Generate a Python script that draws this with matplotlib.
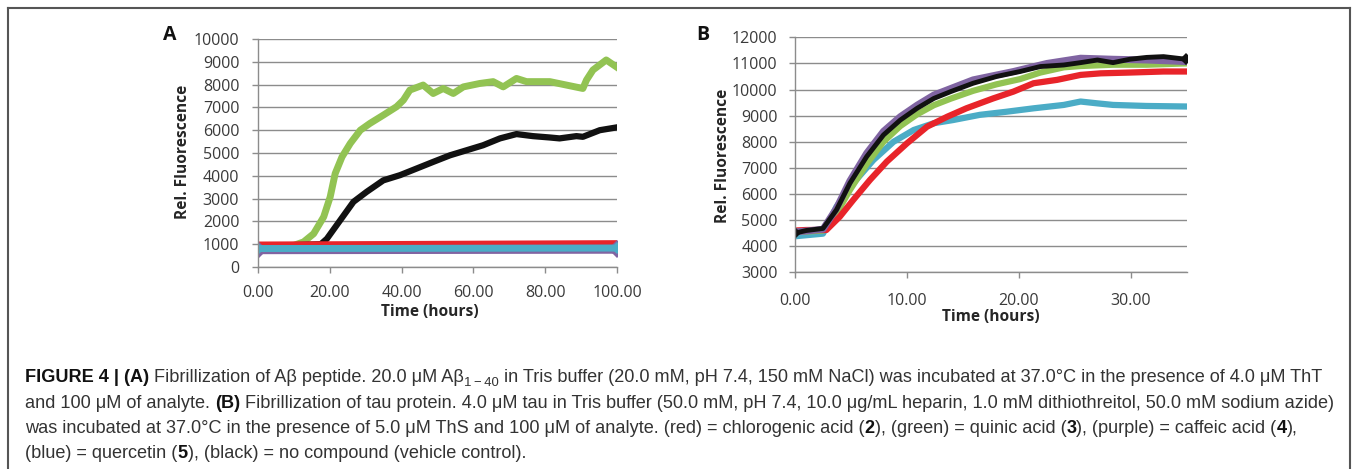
import numpy as np
import matplotlib
matplotlib.use("Agg")
import matplotlib.pyplot as plt
from matplotlib.lines import Line2D

# ---- data ----
# Panel A (Abeta), time in hours
a_green_t = [0, 5, 10, 12.7, 15.5, 18.3, 20.1, 21.5, 23.4, 25.7, 28.5, 31.2, 34.9, 38.6, 40.5, 42.3,
             46, 48.8, 51.6, 54.4, 57.2, 61.8, 65.5, 68.3, 72, 74.8, 81.3, 85.9, 90.5, 91.5, 93.3, 97, 99.8]
a_green_v = [900, 920, 950, 1100, 1460, 2200, 3070, 4100, 4830, 5420, 6000, 6300, 6660, 7030, 7320, 7760,
             7980, 7610, 7830, 7610, 7900, 8050, 8130, 7900, 8270, 8130, 8130, 7980, 7830, 8200, 8640, 9080, 8780]
a_black_t = [0, 10, 17.5, 19.2, 22.9, 26.6, 30.3, 34.9, 39.6, 44.2, 48.8, 53.5, 58.1, 62.7, 67.4, 72,
             76.6, 81.3, 84, 88.7, 90.5, 95.2, 99.8]
a_black_v = [950, 960, 1000, 1240, 2050, 2860, 3300, 3800, 4030, 4320, 4610, 4900, 5120, 5340, 5640, 5830,
             5740, 5680, 5640, 5740, 5710, 6000, 6120]
a_flat_t = [0, 50, 100]
a_red_v = [950, 980, 1010]
a_purple_v = [760, 770, 780]
a_blue_v = [810, 820, 830]

# Panel B (tau)
b_black_t = [0, 1, 2.5, 3.7, 4.9, 6.4, 7.9, 9.4, 10.9, 12.4, 13.9, 15.9, 18, 20.1, 21.9, 24, 25.5, 27,
             28.4, 29.9, 31.4, 32.9, 34.9]
b_black_v = [4500, 4600, 4680, 5390, 6410, 7430, 8260, 8830, 9280, 9660, 9920, 10240, 10500, 10690, 10880,
             10940, 11030, 11130, 11030, 11160, 11230, 11260, 11160]
b_purple_t = [0, 1, 2.5, 3.7, 4.9, 6.4, 7.9, 9.4, 10.9, 12.4, 15.9, 19.5, 22.5, 25.5, 28.4, 31.4, 34.9]
b_purple_v = [4550, 4580, 4650, 5450, 6500, 7560, 8400, 8960, 9400, 9790, 10370, 10690, 11000, 11200,
              11160, 11130, 11070]
b_green_t = [0, 1, 2.5, 3.7, 4.9, 6.4, 7.9, 9.4, 10.9, 12.4, 13.9, 15.9, 18, 20.1, 21.9, 24, 25.5,
             28.4, 31.4, 34.9]
b_green_v = [4550, 4560, 4600, 5250, 6150, 7150, 8000, 8600, 9050, 9400, 9650, 9950, 10200, 10400, 10650,
             10850, 10900, 10950, 10950, 11000]
b_blue_t = [0, 1, 2.5, 3.7, 5.2, 7, 8.8, 10.6, 12.4, 14.1, 16.5, 18.9, 21.3, 24, 25.5, 27, 28.4, 31.4, 34.9]
b_blue_v = [4380, 4420, 4480, 5510, 6410, 7300, 8000, 8450, 8710, 8830, 9030, 9150, 9280, 9410, 9540,
            9470, 9410, 9370, 9350]
b_red_t = [0, 1, 2.8, 4, 5.2, 6.7, 8.2, 10, 11.8, 13.6, 15.3, 17.7, 19.5, 21.3, 23.4, 25.5, 27.3, 29.9,
           32.9, 34.9]
b_red_v = [4600, 4620, 4620, 5130, 5770, 6540, 7240, 7940, 8580, 8960, 9280, 9660, 9920, 10240, 10370,
           10560, 10620, 10650, 10690, 10690]

a_xticks = [0, 20, 40, 60, 80, 100]
a_yticks = list(range(0, 10001, 1000))
b_xticks = [0, 10, 20, 30]
b_yticks = list(range(3000, 12001, 1000))

GREEN = "#92c353"
RED = "#e8242a"
PURPLE = "#8064a2"
BLUE = "#4bacc6"
BLACK = "#111111"

caption = [
    [("FIGURE 4 | (A)", "bold", 0), (" Fibrillization of A\u03b2 peptide. 20.0 \u03bcM A\u03b2", "normal", 0),
     ("1\u2009\u2212\u200940", "normal", -1),
     (" in Tris buffer (20.0 mM, pH 7.4, 150 mM NaCl) was incubated at 37.0\u00b0C in the presence of 4.0 \u03bcM ThT", "normal", 0)],
    [("and 100 \u03bcM of analyte. ", "normal", 0), ("(B)", "bold", 0),
     (" Fibrillization of tau protein. 4.0 \u03bcM tau in Tris buffer (50.0 mM, pH 7.4, 10.0 \u03bcg/mL heparin, 1.0 mM dithiothreitol, 50.0 mM sodium azide)", "normal", 0)],
    [("was incubated at 37.0\u00b0C in the presence of 5.0 \u03bcM ThS and 100 \u03bcM of analyte. (red) = chlorogenic acid (", "normal", 0),
     ("2", "bold", 0), ("), (green) = quinic acid (", "normal", 0), ("3", "bold", 0),
     ("), (purple) = caffeic acid (", "normal", 0), ("4", "bold", 0), ("),", "normal", 0)],
    [("(blue) = quercetin (", "normal", 0), ("5", "bold", 0), ("), (black) = no compound (vehicle control).", "normal", 0)],
]

W, H = 1357, 469
fig = plt.figure(figsize=(W / 100, H / 100), dpi=100)


def px_axes(x0, y0, x1, y1):
    return fig.add_axes([x0 / W, 1 - y1 / H, (x1 - x0) / W, (y1 - y0) / H])


def style(ax, ytick_pad, xtick_pad):
    for s in ["top", "right"]:
        ax.spines[s].set_visible(False)
    for s in ["left", "bottom"]:
        ax.spines[s].set_color("#8c8c8c")
        ax.spines[s].set_linewidth(1.0)
    ax.grid(axis="y", color="#8c8c8c", lw=1.0)
    ax.set_axisbelow(True)
    ax.tick_params(axis="y", length=4.5, width=1, color="#8c8c8c", pad=ytick_pad,
                   labelsize=11.5, labelcolor="#3a3a3a")
    ax.tick_params(axis="x", length=4, width=1, color="#8c8c8c", pad=xtick_pad,
                   labelsize=11.5, labelcolor="#3a3a3a")
    for lab in ax.get_xticklabels() + ax.get_yticklabels():
        lab.set_family("Open Sans")


plt.rcParams["font.family"] = ["Open Sans", "DejaVu Sans"]

# ---- panel A ----
axA = px_axes(258, 39, 617, 267)
axA.plot(a_green_t, a_green_v, color=GREEN, lw=5, solid_joinstyle="round")
axA.plot(a_black_t, a_black_v, color=BLACK, lw=4.5, solid_joinstyle="round")
axA.plot(a_flat_t, a_red_v, color=RED, lw=5.5)
axA.plot(a_flat_t, a_purple_v, color=PURPLE, lw=6.5, marker="D", markersize=9,
         markevery=[0, -1], markeredgewidth=0)
axA.plot(a_flat_t, a_blue_v, color=BLUE, lw=5, marker="D", markersize=6,
         markevery=[0, -1], markeredgewidth=0)
axA.set_xlim(0, 100)
axA.set_ylim(0, 10000)
axA.set_xticks(a_xticks)
axA.set_xticklabels([f"{v:.2f}" for v in a_xticks])
axA.set_yticks(a_yticks)
axA.set_yticklabels([str(v) for v in a_yticks])
style(axA, 9, 9)

# ---- panel B ----
axB = px_axes(795, 37.3, 1187, 272.3)
axB.plot(b_blue_t, b_blue_v, color=BLUE, lw=4.5, solid_joinstyle="round")
axB.plot(b_green_t, b_green_v, color=GREEN, lw=4.5, solid_joinstyle="round")
axB.plot(b_red_t, b_red_v, color=RED, lw=4.5, solid_joinstyle="round")
axB.plot(b_purple_t, b_purple_v, color=PURPLE, lw=5, solid_joinstyle="round")
axB.plot(b_black_t, b_black_v, color=BLACK, lw=3.5, solid_joinstyle="round",
         marker="D", markersize=6, markevery=[0, -1], markeredgewidth=0)
axB.set_xlim(0, 35)
axB.set_ylim(3000, 12000)
axB.set_xticks(b_xticks)
axB.set_xticklabels([f"{v:.2f}" for v in b_xticks])
axB.set_yticks(b_yticks)
axB.set_yticklabels([str(v) for v in b_yticks])
style(axB, 8, 11)

# axis titles and panel letters
lab_kw = dict(fontsize=11.2, fontweight="bold", color="#262626", family="Open Sans")
fig.text(183 / W, 1 - 152 / H, "Rel. Fluorescence", rotation=90, ha="center", va="center", **lab_kw)
fig.text(430 / W, 1 - 312 / H, "Time (hours)", ha="center", va="center", **lab_kw)
fig.text(723 / W, 1 - 156 / H, "Rel. Fluorescence", rotation=90, ha="center", va="center", **lab_kw)
fig.text(991 / W, 1 - 317 / H, "Time (hours)", ha="center", va="center", **lab_kw)
fig.text(170 / W, 1 - 35.5 / H, "A", ha="center", va="center", fontsize=14, fontweight="bold",
         family="Open Sans", color="#111111")
fig.text(703 / W, 1 - 35.5 / H, "B", ha="center", va="center", fontsize=14, fontweight="bold",
         family="Open Sans", color="#111111")

# frame around the figure area
frame_kw = dict(color="#555555", lw=1.5, transform=fig.transFigure)
fig.add_artist(Line2D([8 / W, 1350 / W], [1 - 8 / H, 1 - 8 / H], **frame_kw))
fig.add_artist(Line2D([8 / W, 8 / W], [1 - 8 / H, 0], **frame_kw))
fig.add_artist(Line2D([1350 / W, 1350 / W], [1 - 8 / H, 0], **frame_kw))

# caption, drawn piece by piece
renderer = fig.canvas.get_renderer()
cap_size = 13.1
baselines = [382, 407.5, 433, 458]
for line, yb in zip(caption, baselines):
    x = 25
    for txt, weight, sub in line:
        size = cap_size * (0.72 if sub else 1)
        dy = 4 if sub else 0
        t = fig.text(x / W, 1 - (yb + dy) / H, txt, fontsize=size, fontweight=weight,
                     family="Liberation Sans", color="#111111" if weight == "bold" else "#333333",
                     ha="left", va="baseline")
        x += t.get_window_extent(renderer).width

fig.savefig("out.png", dpi=100)
